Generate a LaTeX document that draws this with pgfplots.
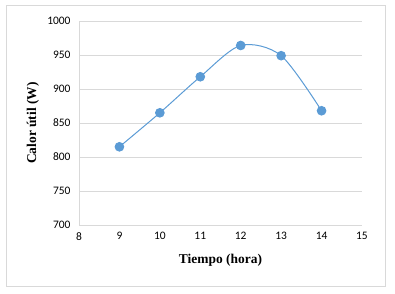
\documentclass[border=0pt]{standalone}
\usepackage{pgfplots}
\pgfplotsset{compat=1.18}
\usepackage{fontspec}
\setmainfont{Liberation Serif}
\newfontfamily\tickfont{Carlito}
\definecolor{gridc}{HTML}{D9D9D9}
\definecolor{serie}{HTML}{5B9BD5}
\begin{document}
\begin{tikzpicture}
\path[use as bounding box] (0,0) rectangle (395bp,294bp);
\draw[gridc, line width=0.8bp] (6bp,8bp) rectangle (385bp,289bp);
\begin{axis}[
  at={(79bp,69bp)}, anchor=south west,
  scale only axis, width=283bp, height=204bp,
  xmin=8, xmax=15, ymin=700, ymax=1000,
  xtick={8,...,15}, ytick={700,750,...,1000},
  axis x line*=bottom, axis y line*=left,
  axis line style={gridc, line width=0.8bp},
  tick style={draw=none},
  ymajorgrids, grid style={gridc, line width=0.8bp},
  tick label style={font=\tickfont\fontsize{11.5}{13}\selectfont, text=black},
  /pgf/number format/assume math mode=true,
  /pgf/number format/1000 sep={},
  xticklabel style={yshift=-4bp},
  yticklabel style={xshift=-5bp},
  xlabel={\textbf{Tiempo (hora)}},
  ylabel={\textbf{Calor útil (W)}},
  label style={font=\fontsize{13.5}{15}\selectfont},
  xlabel style={at={(axis description cs:0.5,0)}, anchor=center, yshift=-35bp},
  ylabel style={at={(axis description cs:0,0.5)}, anchor=center, yshift=46bp},
  clip=false,
]
\addplot[serie, line width=1bp, smooth, tension=0.5, mark=*, mark size=4.3bp, mark options={fill=serie, draw=serie}]
coordinates {(9,815) (10,865) (11,918) (12,964) (13,949) (14,868)};
\end{axis}
\end{tikzpicture}
\end{document}
